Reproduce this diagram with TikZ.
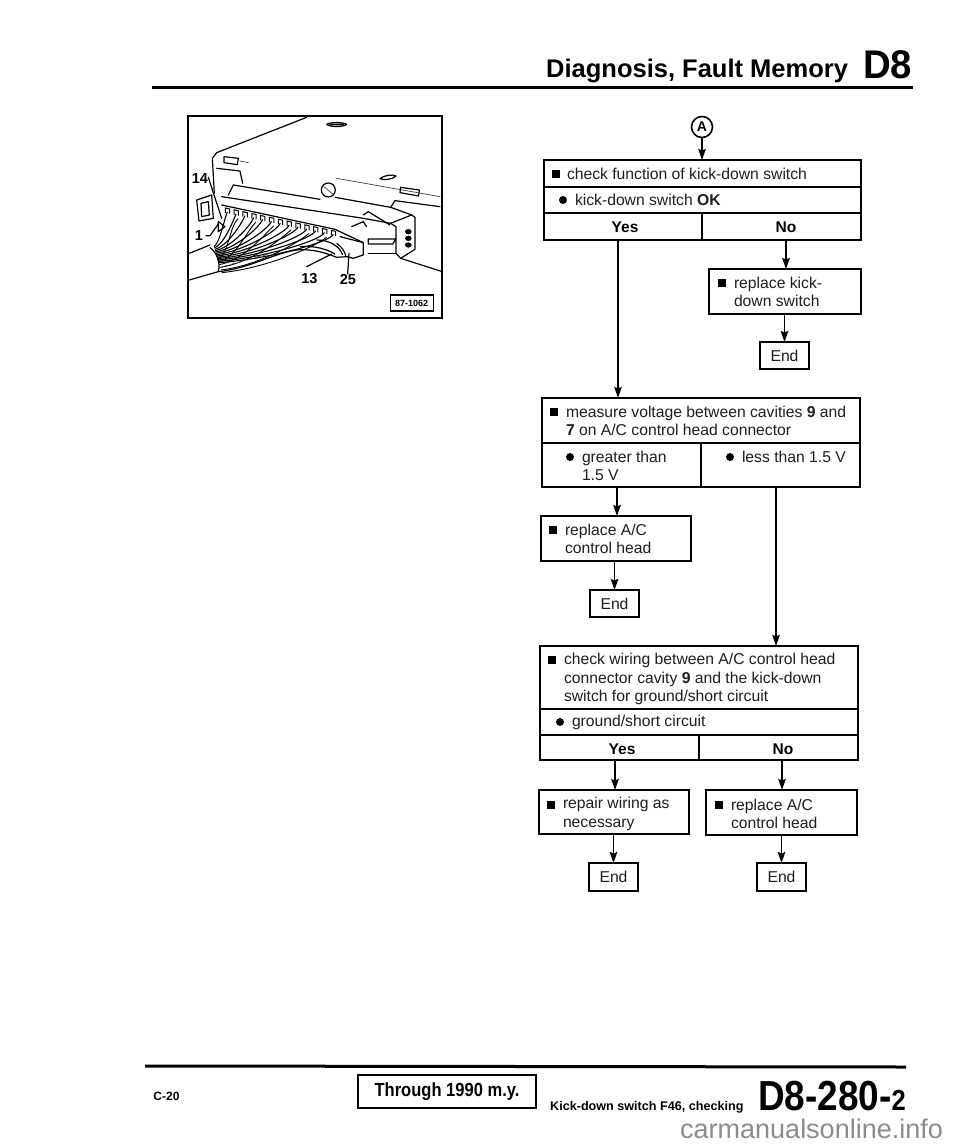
\documentclass[tikz,border=0pt]{standalone}
\usepackage{fontspec}
\setmainfont{Liberation Sans}
\usetikzlibrary{arrows.meta}
\tikzset{
  cellbox/.style={draw=black,line width=1.5pt,inner sep=0pt,outer sep=0pt,fill=white},
  txt/.style={anchor=west,align=left,inner sep=0pt,outer sep=0pt,text=black!88,font=\fontsize{15.7}{18.2}\selectfont},
  ctr/.style={anchor=center,inner sep=0pt,outer sep=0pt,text=black!88,font=\fontsize{15.7}{18}\selectfont},
  ctrb/.style={anchor=center,inner sep=0pt,outer sep=0pt,text=black,font=\bfseries\fontsize{15.5}{18}\selectfont},
  sqb/.style={rectangle,fill=black,inner sep=0pt,outer sep=0pt,minimum width=8pt,minimum height=8pt},
  cib/.style={circle,fill=black,inner sep=0pt,outer sep=0pt,minimum size=8pt},
  conn/.style={draw=black,line width=1.6pt,-{Stealth[length=11pt,width=7.5pt,inset=1.5pt]}},
  ph/.style={draw=black,line width=1.2pt,line join=round,line cap=round},
  phthin/.style={draw=black!75,line width=0.7pt,line cap=round},
  phtxt/.style={inner sep=0pt,outer sep=0pt,font=\bfseries\fontsize{14.5}{14.5}\selectfont},
  rulebar/.style={draw=black,line width=3pt},
}
\newcommand{\cell}[5]{%
  \pgfmathsetmacro{\cw}{#4-#2}\pgfmathsetmacro{\ch}{#5-#3}%
  \pgfmathsetmacro{\cx}{(#4+#2)/2}\pgfmathsetmacro{\cy}{(#5+#3)/2}%
  \node[cellbox,minimum width=\cw pt,minimum height=\ch pt] (#1) at (\cx,\cy) {};}
\begin{document}
\begin{tikzpicture}[x=1pt,y=-1pt]
\useasboundingbox (0,0) rectangle (960,1147);
\fill[white] (0,0) rectangle (960,1147);

% ---------- header ----------
\node[inner sep=0pt,anchor=base west,font=\bfseries\fontsize{25.5}{26}\selectfont] (title) at (546,78) {Diagnosis, Fault Memory};
\node[inner sep=0pt,anchor=base west,font=\bfseries\fontsize{40}{40}\selectfont,xscale=0.96] (dtitle) at (863,79) {D8};
\coordinate (hl) at (152,88); \coordinate (hr) at (913,88);
\draw[rulebar] (hl) -- (hr);

% ---------- illustration ----------
\node[draw=black,line width=1.5pt,inner sep=0pt,outer sep=0pt,minimum width=254pt,minimum height=202pt] (frame) at (315,217) {};
\begin{scope}[shift={(150,90)},x=0.3333pt,y=-0.3333pt]
  % plate
  \draw[ph] (470,82) -- (200,188) -- (187,205) -- (193,310);
  \draw[ph] (200,235) -- (270,243) -- (278,280);
  \draw[ph] (735,332) -- (870,350);
  \draw[phthin] (560,265) -- (870,320);
  \draw[ph] (530,103) .. controls (540,96) and (580,96) .. (590,103) .. controls (580,112) and (540,112) .. (530,103);
  \fill[black] (540,101) -- (580,101) -- (582,106) -- (538,106) -- cycle;
  \draw[ph] (690,266) .. controls (700,256) and (730,252) .. (738,258) .. controls (730,268) and (700,272) .. (690,266);
  \draw[ph] (222,200) -- (265,205) -- (262,224) -- (222,218) -- cycle;
  \draw[ph] (752,292) -- (808,300) -- (806,318) -- (750,308) -- cycle;
  \draw[phthin] (270,213) -- (295,218);
  % nut
  \draw[ph] (535,300) circle (21);
  \draw[phthin] (522,290) -- (548,312);
  % connector housing
  \draw[ph] (235,315) -- (250,285) -- (510,328);
  \draw[ph] (555,322) -- (722,352) -- (735,332);
  \draw[ph] (215,320) -- (640,385) -- (722,400);
  \draw[ph] (722,352) -- (785,375) -- (795,382) -- (795,478) -- (752,505) -- (738,490);
  \draw[ph] (722,400) -- (785,375);
  \draw[ph] (738,490) -- (738,410) -- (722,400);
  \draw[ph] (215,345) -- (555,418) -- (640,458) -- (640,495) -- (610,505) -- (590,500);
  \draw[ph] (570,440) -- (640,458);
  \draw[ph] (655,447) -- (738,447) -- (728,462) -- (655,462) -- cycle;
  \draw[ph] (655,490) -- (738,490);
  \draw[ph] (752,505) -- (877,545);
  \draw[ph] (640,375) -- (655,365) -- (720,405);
  \draw[ph] (605,410) -- (640,395) -- (650,410);
  \foreach \yy in {425,445,465}{\fill[black] (775,\yy) ellipse (10 and 8);}
  % left bracket
  \draw[ph] (140,330) -- (185,315) -- (190,385) -- (147,393) -- cycle;
  \draw[ph] (153,340) -- (175,335) -- (178,375) -- (155,380) -- cycle;
  % sheath
  \draw[ph] (118,490) -- (180,465);
  \draw[ph] (180,473) .. controls (200,485) and (212,520) .. (205,545);
  \draw[ph] (118,570) -- (205,545) .. controls (300,535) and (370,490) .. (440,480) .. controls (490,476) and (530,490) .. (560,502) -- (590,500);
  % pins and wires
  \foreach \i in {0,...,12}{
    \pgfmathsetmacro{\px}{232+26.5*\i}
    \pgfmathsetmacro{\py}{360+5.6*\i}
    \pgfmathsetmacro{\ey}{470+4*\i}
    \pgfmathsetmacro{\ex}{192+1.2*\i}
    \pgfmathsetmacro{\cxa}{\ex+(\px-\ex)*0.42}
    \draw[black,line width=1.0pt] (\px-6,\py+9) -- (\px-6,\py-6) -- (\px+7,\py-3) -- (\px+7,\py+11);
    \draw[black,line width=1.1pt] (\px,\py+6) .. controls (\px-10,\py+30) and (\cxa,\ey-10) .. (\ex,\ey);
    \ifodd\i
      \draw[black,line width=0.9pt] (\px+6,\py+20) .. controls (\px-20,\py+44) and (\cxa+15,\ey+20) .. (\ex+10,\ey+34);
    \fi
  }
  \foreach \i in {0,...,5}{
    \pgfmathsetmacro{\sx}{215+25*\i}
    \pgfmathsetmacro{\sy}{532-7*\i}
    \draw[phthin] (\sx,\sy) -- (\sx+15,\sy-6);
  }
  \draw[black,line width=1.2pt] (450,470) .. controls (490,465) and (540,480) .. (555,493);
  \draw[black,line width=1.2pt] (500,450) .. controls (540,450) and (570,470) .. (578,495);
  \draw[black,line width=1.1pt] (560,460) .. controls (575,470) and (585,485) .. (588,500);
  \draw[ph] (205,395) -- (225,410) -- (205,425) -- cycle;
  % leaders
  \draw[ph] (175,262) -- (215,385);
  \draw[ph] (168,437) -- (180,437) -- (205,402);
  \draw[ph] (470,530) -- (545,492);
  \draw[ph] (593,552) -- (597,490);
  % labels
  \node[phtxt] (l14) at (150,265) {14};
  \node[phtxt] (l1) at (147,436) {1};
  \node[phtxt] (l13) at (478,567) {13};
  \node[phtxt] (l25) at (594,570) {25};
  \node[draw=black,line width=1.2pt,inner sep=0pt,outer sep=0pt,minimum width=43pt,minimum height=16pt,font=\bfseries\fontsize{9}{10}\selectfont] (code) at (785,639) {87-1062};
\end{scope}

% ---------- flow 1 ----------
\node[draw=black,line width=1.6pt,circle,minimum size=21pt,inner sep=0pt,outer sep=0pt] (A) at (702,127) {\bfseries\fontsize{14}{14}\selectfont A};
\cell{a1}{544}{160}{861}{187}
\cell{a2}{544}{187}{861}{213}
\cell{ayes}{544}{213}{702}{240}
\cell{ano}{702}{213}{861}{240}
\draw[conn] (A) -- (a1.north -| A);
\node[sqb] (a1s) at (556,174) {}; \node[txt] (a1t) at (567,174) {check function of kick-down switch};
\node[cib] (a2s) at (563,200) {}; \node[txt] (a2t) at (575,200) {kick-down switch \textbf{OK}};
\node[ctrb] (ayest) at (625,227) {Yes};
\node[ctrb] (anot) at (786,227) {No};
\cell{b}{709}{269}{861}{314}
\node[sqb] (bs) at (722,283) {}; \node[txt] (bt) at (734,292) {replace kick-\\down switch};
\cell{bend}{760}{342}{809}{369}
\node[ctr] (bendt) at (bend) {End};
\coordinate (xno) at (786,240);
\draw[conn] (xno) -- (xno |- b.north);
\draw[conn] (b.south -| bend) -- (bend.north);

% ---------- flow 2 ----------
\cell{c1}{542}{398}{860}{443}
\cell{cl}{542}{443}{701}{487}
\cell{cr}{701}{443}{860}{487}
\coordinate (xyes) at (618,240);
\draw[conn] (xyes) -- (xyes |- c1.north);
\node[sqb] (c1s) at (554,412) {}; \node[txt] (c1t) at (566,421) {measure voltage between cavities \textbf{9} and\\\textbf{7} on A/C control head connector};
\node[cib] (cls) at (570,457) {}; \node[txt] (clt) at (582,466) {greater than\\1.5 V};
\node[cib] (crs) at (730,457) {}; \node[txt] (crt) at (742,457) {less than 1.5 V};
\cell{d}{541}{516}{691}{561}
\node[sqb] (ds) at (553,530) {}; \node[txt] (dt) at (565,539) {replace A/C\\control head};
\cell{dend}{590}{590}{639}{617}
\node[ctr] (dendt) at (dend) {End};
\coordinate (xgt) at (617,487);
\draw[conn] (xgt) -- (xgt |- d.north);
\draw[conn] (d.south -| dend) -- (dend.north);

% ---------- flow 3 ----------
\cell{e1}{540}{646}{858}{709}
\cell{e2}{540}{709}{858}{735}
\cell{eyes}{540}{735}{699}{760}
\cell{eno}{699}{735}{858}{760}
\coordinate (xlt) at (776,487);
\draw[conn] (xlt) -- (xlt |- e1.north);
\node[sqb] (e1s) at (552,660) {}; \node[txt] (e1t) at (564,679) {check wiring between A/C control head\\connector cavity \textbf{9} and the kick-down\\switch for ground/short circuit};
\node[cib] (e2s) at (560,722) {}; \node[txt] (e2t) at (572,722) {ground/short circuit};
\node[ctrb] (eyest) at (622,749) {Yes};
\node[ctrb] (enot) at (783,749) {No};
\cell{f}{539}{790}{689}{834}
\cell{g}{706}{790}{857}{835}
\node[sqb] (fs) at (551,805) {}; \node[txt] (ft) at (563,814) {repair wiring as\\necessary};
\node[sqb] (gs) at (719,805) {}; \node[txt] (gt) at (731,814) {replace A/C\\control head};
\cell{fend}{589}{863}{638}{891}
\cell{gend}{757}{863}{806}{891}
\node[ctr] (fendt) at (fend) {End};
\node[ctr] (gendt) at (gend) {End};
\coordinate (xf) at (615,760);
\coordinate (xg) at (782,760);
\draw[conn] (xf) -- (xf |- f.north);
\draw[conn] (xg) -- (xg |- g.north);
\draw[conn] (f.south -| fend) -- (fend.north);
\draw[conn] (g.south -| gend) -- (gend.north);

% ---------- footer ----------
\coordinate (fl) at (145,1066); \coordinate (fr) at (906,1067);
\draw[rulebar] (fl) -- (fr);
\node[inner sep=0pt,font=\bfseries\fontsize{12}{12}\selectfont] (pg) at (166.5,1096) {C-20};
\node[draw=black,line width=1.8pt,inner sep=0pt,outer sep=0pt,minimum width=178pt,minimum height=33pt] (thr) at (447,1091.5) {};
\node[inner sep=0pt,font=\bfseries\fontsize{19}{19}\selectfont,xscale=0.87] (thrt) at (thr) {Through 1990 m.y.};
\node[inner sep=0pt,anchor=base west,font=\bfseries\fontsize{12.6}{13}\selectfont] (kd) at (550,1110) {Kick-down switch F46, checking};
\node[inner sep=0pt,anchor=base west,font=\bfseries\fontsize{42}{42}\selectfont,xscale=0.88] (code2) at (758,1110) {D8-280-{\fontsize{29}{29}\selectfont 2}};
\node[inner sep=0pt,anchor=base west,text=black!45,font=\fontsize{27}{27}\selectfont] (wm) at (680,1138) {carmanualsonline.info};
\end{tikzpicture}
\end{document}
